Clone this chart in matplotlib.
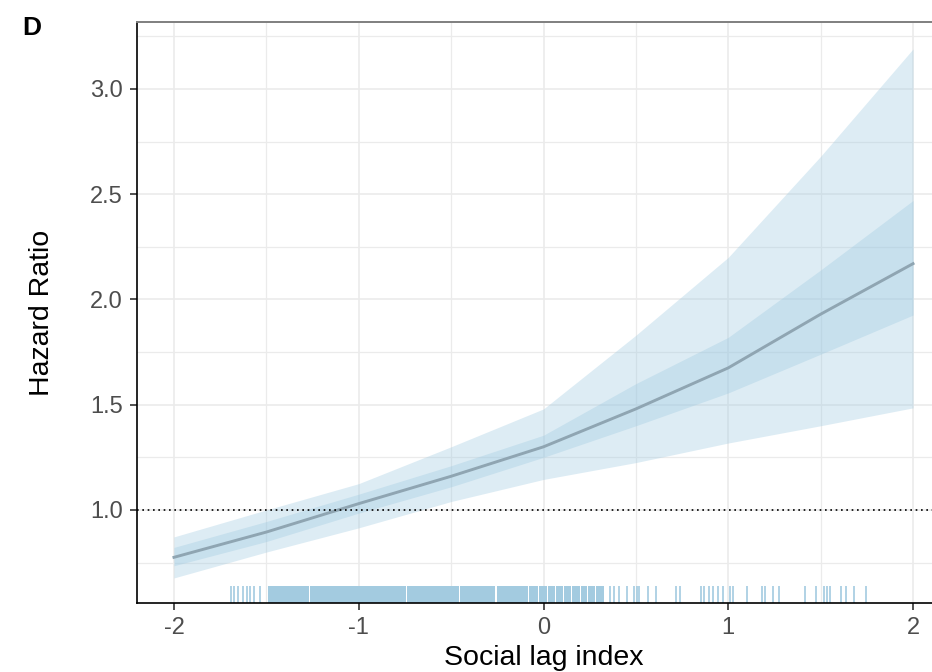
import matplotlib
matplotlib.use("Agg")
from matplotlib import pyplot as plt

plt.rcParams['font.family'] = ['Liberation Sans', 'DejaVu Sans']

# spline estimate of hazard ratio vs social lag index
x_knots = [-2, -1.5, -1, -0.5, 0, 0.5, 1, 1.5, 2]
hr = [0.775, 0.895, 1.03, 1.16, 1.30, 1.48, 1.675, 1.93, 2.17]
outer_lo = [0.677, 0.80, 0.915, 1.04, 1.145, 1.225, 1.318, 1.40, 1.485]
outer_hi = [0.872, 1.00, 1.125, 1.30, 1.48, 1.83, 2.20, 2.68, 3.19]
inner_lo = [0.735, 0.85, 0.985, 1.11, 1.25, 1.40, 1.556, 1.74, 1.926]
inner_hi = [0.822, 0.945, 1.075, 1.21, 1.355, 1.60, 1.82, 2.14, 2.47]

# rug: single observations and solid (densely packed) stretches
rug_single = [-1.692, -1.674, -1.656, -1.625, -1.607, -1.589, -1.566, -1.535,
              0.36, 0.384, 0.407, 0.45, 0.492, 0.505, 0.519, 0.564, 0.609,
              0.717, 0.741, 0.852, 0.87, 0.897, 0.919, 0.942, 0.973, 1.009,
              1.023, 1.104, 1.182, 1.2, 1.24, 1.272, 1.416, 1.477, 1.519,
              1.532, 1.551, 1.609, 1.636, 1.681, 1.744]
rug_dense = [(-1.49, -1.27), (-1.262, -0.745), (-0.738, -0.457), (-0.451, -0.262),
             (-0.252, -0.083), (-0.077, -0.030), (-0.024, 0.020), (0.026, 0.064),
             (0.070, 0.105), (0.111, 0.150), (0.156, 0.195), (0.201, 0.235),
             (0.241, 0.280), (0.286, 0.33)]

x_ticks = [-2, -1, 0, 1, 2]
y_ticks = [1.0, 1.5, 2.0, 2.5, 3.0]

band_col = '#9ecae1'
rug_col = '#a3cbe0'
line_col = '#8fa5b2'

fig = plt.figure(figsize=(9.32, 6.72), dpi=100)
ax = fig.add_axes([137 / 932, 69 / 672, 813 / 932, 581 / 672])

ax.set_xlim(-2.2, 2.2)
ax.set_ylim(0.558, 3.318)

# grid like theme_bw
ax.set_xticks([-1.5, -0.5, 0.5, 1.5], minor=True)
ax.set_yticks([0.75, 1.25, 1.75, 2.25, 2.75, 3.25], minor=True)
ax.grid(True, which='major', color='#ebebeb', lw=1.2)
ax.grid(True, which='minor', color='#ebebeb', lw=0.9)
ax.set_axisbelow(True)
ax.tick_params(which='minor', length=0)

ax.fill_between(x_knots, outer_lo, outer_hi, color=band_col, alpha=0.35, lw=0)
ax.fill_between(x_knots, inner_lo, inner_hi, color=band_col, alpha=0.35, lw=0)
ax.plot(x_knots, hr, color=line_col, lw=2.1)
ax.axhline(1.0, color='black', ls=(0, (1, 2.2)), lw=1.2)

ax.vlines(rug_single, 0, 0.03, transform=ax.get_xaxis_transform(),
          color=rug_col, lw=1.2)
for a, b in rug_dense:
    ax.axvspan(a, b, ymin=0, ymax=0.03, color=rug_col, lw=0)

ax.set_xticks(x_ticks)
ax.set_xticklabels([str(v) for v in x_ticks])
ax.set_yticks(y_ticks)
ax.set_yticklabels([f'{v:.1f}' for v in y_ticks])
ax.tick_params(which='major', length=5, width=1.2, color='#333333',
               labelcolor='#4d4d4d', labelsize=17, pad=5)

for s in ['left', 'bottom']:
    ax.spines[s].set_color('black')
    ax.spines[s].set_linewidth(1.2)
ax.spines['top'].set_color('#7f7f7f')
ax.spines['top'].set_linewidth(1.4)
ax.spines['right'].set_visible(False)

ax.set_xlabel('Social lag index', fontsize=20.5)
ax.set_ylabel('Hazard Ratio', fontsize=20.5)
ax.xaxis.set_label_coords((544 - 137) / 813, -0.073)
ax.yaxis.set_label_coords(-0.101, 0.5)

fig.text(22 / 932, 1 - 28 / 672, 'D', fontsize=19, fontweight='bold', va='center')

fig.savefig('out.png', dpi=100)
